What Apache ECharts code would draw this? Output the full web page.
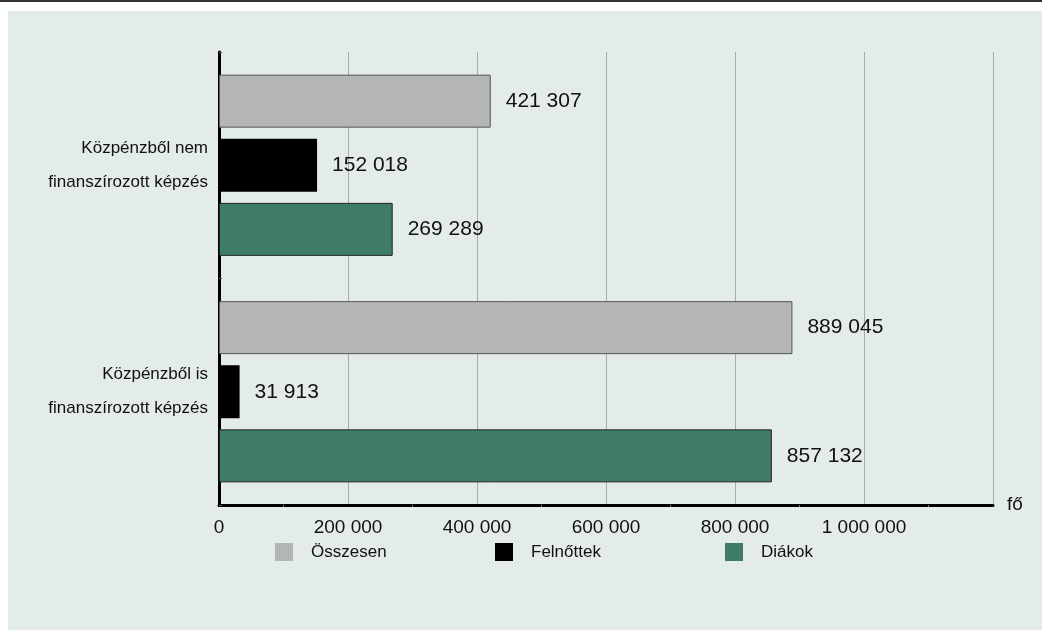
<!DOCTYPE html>
<html>
<head>
<meta charset="utf-8">
<script src="https://cdn.jsdelivr.net/npm/echarts@6/dist/echarts.min.js"></script>
<style>
  html, body { margin: 0; padding: 0; background: #fff; }
  .topline { position: absolute; left: 0; top: 0; width: 1042px; height: 2px; background: #333; }
  .panel { position: absolute; left: 8px; top: 11px; width: 1034px; height: 619px; background: #e3ece8; }
  #chart { position: absolute; left: 0; top: 0; width: 1042px; height: 630px; }
</style>
</head>
<body>
<div class="topline"></div>
<div class="panel"></div>
<div id="chart"></div>
<script>
  // categories top to bottom
  const categories = ['Közpénzből nem\nfinanszírozott képzés', 'Közpénzből is\nfinanszírozott képzés'];
  const osszesen = [421307, 889045];
  const felnottek = [152018, 31913];
  const diakok = [269289, 857132];
  const tickLabels = ['0', '200 000', '400 000', '600 000', '800 000', '1 000 000', ''];
  const seriesNames = ['Összesen', 'Felnőttek', 'Diákok'];

  const FONT = '"Liberation Sans Narrow", "Liberation Sans", sans-serif';

  function fmt(v) {
    return String(v).replace(/\B(?=(\d{3})+(?!\d))/g, ' ');
  }

  const valueLabel = {
    show: true,
    position: 'right',
    distance: 15,
    color: '#111',
    fontFamily: FONT,
    fontSize: 21,
    formatter: p => fmt(p.value)
  };

  // one legend per item so they sit where the original has them
  const legendLeft = [270, 490, 720];
  const legends = seriesNames.map((n, i) => ({
    left: legendLeft[i],
    top: 538,
    icon: 'rect',
    itemWidth: 18,
    itemHeight: 18,
    itemStyle: { borderWidth: 0 },
    textStyle: { fontFamily: FONT, fontSize: 17, color: '#111', padding: [0, 0, 0, 13] },
    data: [n]
  }));

  const chart = echarts.init(document.getElementById('chart'), null, { renderer: 'canvas' });
  chart.setOption({
    backgroundColor: 'transparent',
    animation: false,
    textStyle: { fontFamily: FONT },
    grid: { left: 219, right: 49, top: 52, bottom: 125, containLabel: false },
    legend: legends,
    xAxis: {
      type: 'value',
      min: 0,
      max: 1200000,
      interval: 200000,
      name: 'fő',
      nameLocation: 'end',
      nameGap: 14,
      nameTextStyle: { fontFamily: FONT, fontSize: 19, color: '#111' },
      axisLine: { show: true, lineStyle: { color: '#000', width: 3 } },
      axisTick: { show: false },
      minorTick: { show: true, splitNumber: 2, length: 2, lineStyle: { color: '#777' } },
      axisLabel: {
        margin: 13,
        fontFamily: FONT,
        fontSize: 19,
        color: '#111',
        formatter: (v, i) => tickLabels[i]
      },
      splitLine: { show: true, lineStyle: { color: '#a9aaaa', width: 1 } }
    },
    yAxis: {
      type: 'category',
      inverse: true,
      data: categories,
      axisLine: { show: true, lineStyle: { color: '#000', width: 3 } },
      axisTick: { show: true, length: 3, inside: true, lineStyle: { color: '#555' } },
      axisLabel: {
        margin: 11,
        fontFamily: FONT,
        fontSize: 17,
        lineHeight: 34,
        color: '#111',
        padding: [6, 0, 0, 0]
      }
    },
    series: [
      {
        name: seriesNames[0],
        type: 'bar',
        barGap: '21%',
        barCategoryGap: '20%',
        data: osszesen,
        itemStyle: { color: '#b4b5b7', borderColor: '#555', borderWidth: 1 },
        label: valueLabel
      },
      {
        name: seriesNames[1],
        type: 'bar',
        data: felnottek,
        itemStyle: { color: '#000' },
        label: valueLabel
      },
      {
        name: seriesNames[2],
        type: 'bar',
        data: diakok,
        itemStyle: { color: '#3e7b69', borderColor: '#222', borderWidth: 1 },
        label: valueLabel
      }
    ]
  });
</script>
</body>
</html>
